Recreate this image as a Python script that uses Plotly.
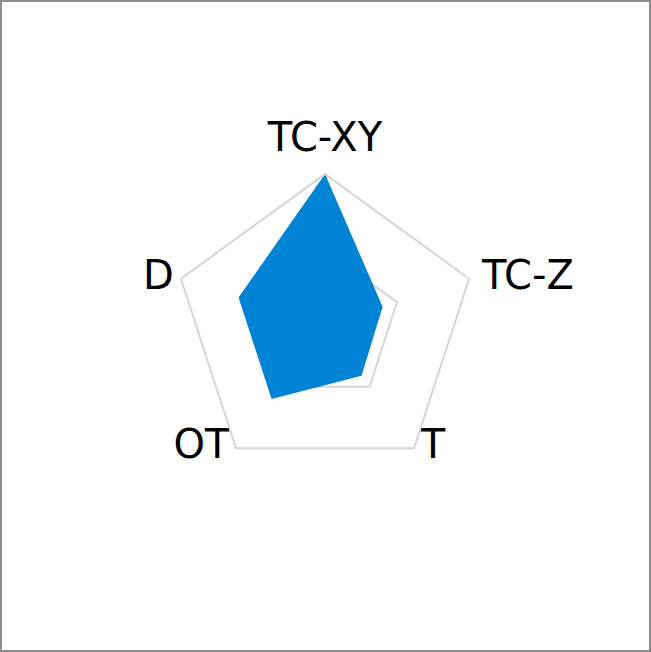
import plotly.graph_objects as go

# axes, clockwise from the top
categories = ["TC-XY", "TC-Z", "T", "OT", "D"]
values = [1.0, 0.40, 0.41, 0.60, 0.60]
grid_ticks = [0.5, 1.0]

# where each axis name sits relative to its corner of the pentagon,
# and how far it is pushed away (size of an invisible marker)
label_pos = ["top center", "middle right", "middle right", "middle left", "middle left"]
label_gap = [19, 19, 9, 9, 10]

fig = go.Figure()

fig.add_trace(go.Scatterpolar(
    r=values + values[:1],
    theta=categories + categories[:1],
    mode="lines",
    fill="toself",
    fillcolor="#0083d4",
    line=dict(color="#0083d4", width=0),
    hoverinfo="skip",
    showlegend=False,
))

# axis names, drawn at the outer ring
fig.add_trace(go.Scatterpolar(
    r=[grid_ticks[-1]] * len(categories),
    theta=categories,
    mode="markers+text",
    text=categories,
    textposition=label_pos,
    textfont=dict(family="DejaVu Sans", size=40, color="black"),
    marker=dict(size=label_gap, color="rgba(0,0,0,0)", line=dict(width=0)),
    cliponaxis=False,
    hoverinfo="skip",
    showlegend=False,
))

fig.update_layout(
    width=651,
    height=652,
    margin=dict(l=0, r=0, t=0, b=0),
    paper_bgcolor="white",
    font=dict(family="DejaVu Sans", color="black"),
    polar=dict(
        gridshape="linear",
        bgcolor="rgba(0,0,0,0)",
        domain=dict(x=[0.2665, 0.732], y=[0.2683, 0.733]),
        radialaxis=dict(
            range=[0, 1],
            tickvals=grid_ticks,
            showticklabels=False,
            ticks="",
            showline=False,
            gridcolor="#d6d6d6",
            gridwidth=2,
        ),
        angularaxis=dict(
            direction="clockwise",
            rotation=90,
            showgrid=False,
            showline=True,
            linecolor="#d6d6d6",
            linewidth=2,
            ticks="",
            showticklabels=False,
        ),
    ),
    shapes=[dict(
        type="rect", xref="paper", yref="paper",
        x0=0, x1=1, y0=0, y1=1,
        line=dict(color="#8c8c8c", width=4),
    )],
)

# the page has a default body margin; drop it so the figure fills the window
fig.write_html("out.html", config={"displayModeBar": False},
               post_script="document.body.style.margin = '0';")
